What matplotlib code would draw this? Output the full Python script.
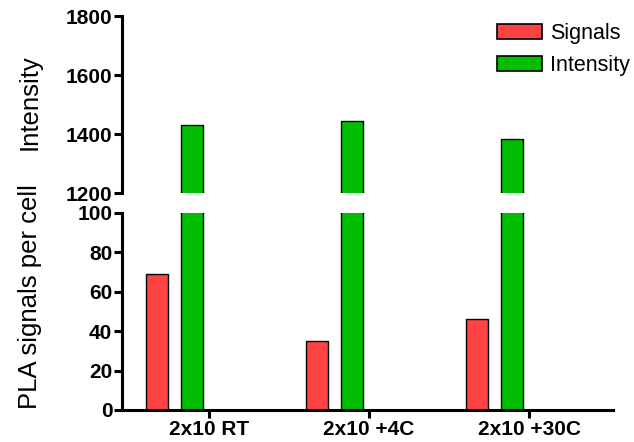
import numpy as np
import matplotlib.pyplot as plt
from matplotlib.patches import Patch

plt.rcParams['font.family'] = ['Liberation Sans', 'DejaVu Sans']

groups = ['2x10 RT', '2x10 +4C', '2x10 +30C']
signals = [69, 35, 46]
intensity = [1432, 1445, 1384]

red = '#FF4343'
green = '#00BE00'

fig = plt.figure(figsize=(6.34, 4.42), dpi=100)
ax_top = fig.add_axes([0.1924, 0.5633, 0.7746, 0.4005])
ax_bot = fig.add_axes([0.1924, 0.0724, 0.7746, 0.4457])

x = np.arange(len(groups))
w = 0.1375
off_red = -0.325
off_green = -0.106

# lower panel: signals + the bottom part of the intensity bars
ax_bot.bar(x + off_red, signals, w, color=red, edgecolor='black', linewidth=1)
ax_bot.bar(x + off_green, intensity, w, color=green, edgecolor='black', linewidth=1)
ax_bot.set_ylim(0, 100)
ax_bot.set_yticks([0, 20, 40, 60, 80, 100])

# upper panel: intensity bars above the break
ax_top.bar(x + off_green, intensity, w, color=green, edgecolor='black', linewidth=1)
ax_top.set_ylim(1200, 1800)
ax_top.set_yticks([1200, 1400, 1600, 1800])

for ax in (ax_top, ax_bot):
    ax.set_xlim(-0.544, 2.525)
    ax.spines['right'].set_visible(False)
    ax.spines['top'].set_visible(False)
    ax.spines['left'].set_linewidth(2.2)
    ax.tick_params(axis='y', direction='out', length=6, width=2.2, labelsize=15, pad=1)
    for lbl in ax.get_yticklabels():
        lbl.set_fontweight('bold')

ax_top.spines['bottom'].set_visible(False)
ax_top.set_xticks([])

ax_bot.spines['bottom'].set_linewidth(2.2)
ax_bot.set_xticks(x)
ax_bot.set_xticklabels(groups, fontsize=15, fontweight='bold')
ax_bot.tick_params(axis='x', direction='out', length=6, width=2.2, pad=1)

fig.text(0.047, 0.769, 'Intensity', rotation=90, fontsize=18.5, ha='center', va='center')
fig.text(0.047, 0.33, 'PLA signals per cell', rotation=90, fontsize=18.5, ha='center', va='center')

handles = [Patch(facecolor=red, edgecolor='black', linewidth=1.2, label='Signals'),
           Patch(facecolor=green, edgecolor='black', linewidth=1.2, label='Intensity')]
fig.legend(handles=handles, loc='upper left', bbox_to_anchor=(0.784, 0.948), frameon=False,
           fontsize=15.5, handlelength=2.1, handleheight=0.7, handletextpad=0.35,
           labelspacing=0.5, borderpad=0, borderaxespad=0)

fig.savefig('out.png', dpi=100)
